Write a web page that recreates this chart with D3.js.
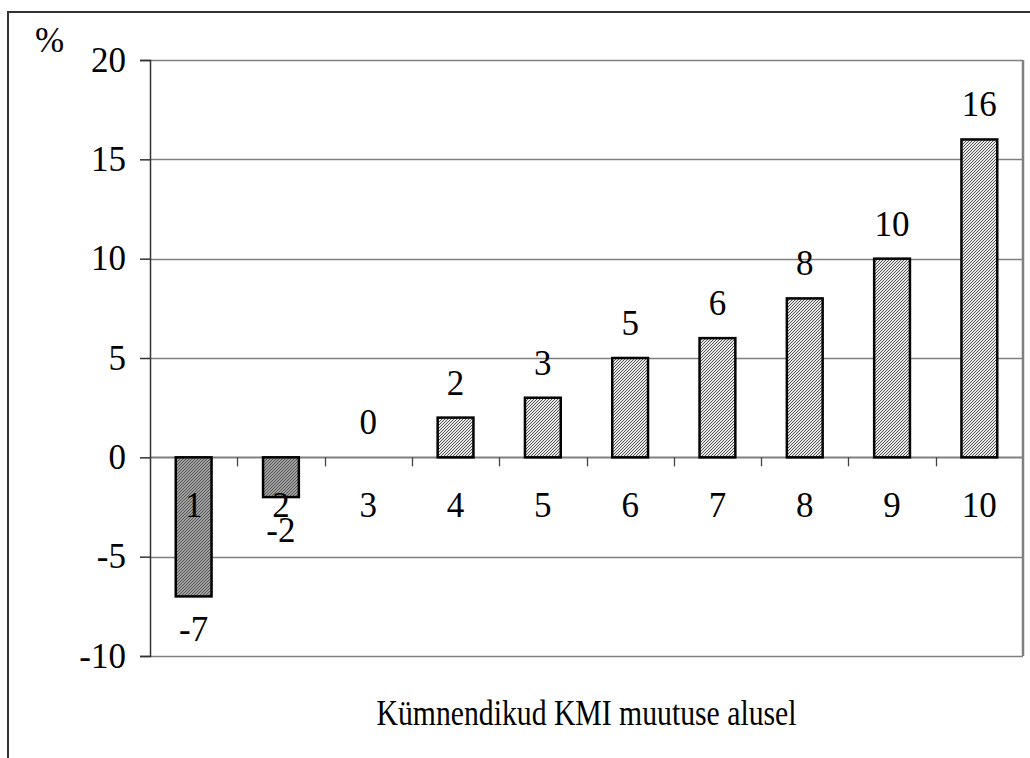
<!DOCTYPE html>
<html>
<head>
<meta charset="utf-8">
<script src="https://cdn.jsdelivr.net/npm/d3@7"></script>
<style>
  html, body { margin: 0; padding: 0; background: #fff; }
  svg { display: block; }
  svg text { font-family: "Liberation Serif", "Times New Roman", Times, "DejaVu Serif", serif !important; fill: #000; }
</style>
</head>
<body>
<svg id="chart" width="1030" height="758"></svg>
<script>
const categories = ["1", "2", "3", "4", "5", "6", "7", "8", "9", "10"];
const values = [-7, -2, 0, 2, 3, 5, 6, 8, 10, 16];
const yTicks = [-10, -5, 0, 5, 10, 15, 20];
const unitLabel = "%";
const xTitle = "Kümnendikud KMI muutuse alusel";

(function () {
const svg = d3.select("#chart");
const pLeft = 150, pRight = 1023, pTop = 60, pBottom = 656;
const fs = 35;
const serif = "'Liberation Serif', 'Times New Roman', Times, serif";

// outer frame (clipped by viewport on right/bottom)
svg.append("rect").attr("x", 8).attr("y", 12).attr("width", 1100).attr("height", 900)
  .attr("fill", "none").attr("stroke", "#333").attr("stroke-width", 2);

const defs = svg.append("defs");
const pPos = defs.append("pattern").attr("id", "hatchPos").attr("patternUnits", "userSpaceOnUse")
  .attr("width", 3).attr("height", 3);
pPos.append("rect").attr("width", 3).attr("height", 3).attr("fill", "#e8e8e8");
pPos.append("path").attr("d", "M-1,1 L1,-1 M0,3 L3,0 M2,4 L4,2").attr("stroke", "#555").attr("stroke-width", 1);

const pNeg = defs.append("pattern").attr("id", "hatchNeg").attr("patternUnits", "userSpaceOnUse")
  .attr("width", 3).attr("height", 3);
pNeg.append("rect").attr("width", 3).attr("height", 3).attr("fill", "#a0a0a0");
pNeg.append("path").attr("d", "M-1,1 L1,-1 M0,3 L3,0 M2,4 L4,2").attr("stroke", "#555").attr("stroke-width", 1);

const x = d3.scaleBand().domain(categories).range([pLeft, pRight]).paddingInner(0).paddingOuter(0);
const y = d3.scaleLinear().domain([-10, 20]).range([pBottom, pTop]);

// gridlines
svg.append("g").selectAll("line").data(yTicks).join("line")
  .attr("x1", pLeft).attr("x2", pRight)
  .attr("y1", d => Math.round(y(d)) + 0.5).attr("y2", d => Math.round(y(d)) + 0.5)
  .attr("stroke", "#808080").attr("stroke-width", d => d === 0 ? 2 : 1.3);

// right border of plot
svg.append("line").attr("x1", pRight).attr("x2", pRight).attr("y1", pTop).attr("y2", pBottom)
  .attr("stroke", "#808080").attr("stroke-width", 2.5);

// y axis
const yAxis = d3.axisLeft(y).tickValues(yTicks).tickSize(10).tickPadding(14).tickFormat(d3.format("d"));
const gy = svg.append("g").attr("transform", `translate(${pLeft},0)`).call(yAxis);
gy.attr("font-family", serif).attr("font-size", fs);
gy.select(".domain").attr("stroke", "#333").attr("stroke-width", 1.5);
gy.selectAll(".tick line").attr("stroke", "#333").attr("stroke-width", 1.5);
gy.selectAll(".tick text").attr("font-size", fs).style("font-family", serif).attr("fill", "#000")
  .text(d => d < 0 ? "-" + Math.abs(d) : d);

// x ticks at category boundaries on zero line
const bounds = categories.map(c => x(c));
svg.append("g").selectAll("line").data(bounds.slice(1)).join("line")
  .attr("x1", d => Math.round(d) + 0.5).attr("x2", d => Math.round(d) + 0.5)
  .attr("y1", y(0)).attr("y2", y(0) + 9)
  .attr("stroke", "#444").attr("stroke-width", 1.3);

// bars
const bw = x.bandwidth() * 0.41;
svg.append("g").selectAll("rect").data(values).join("rect")
  .attr("x", (d, i) => x(categories[i]) + x.bandwidth() / 2 - bw / 2)
  .attr("width", bw)
  .attr("y", d => y(Math.max(0, d)))
  .attr("height", d => Math.abs(y(d) - y(0)))
  .attr("fill", d => d < 0 ? "url(#hatchNeg)" : "url(#hatchPos)")
  .attr("stroke", d => d === 0 ? "none" : "#000").attr("stroke-width", 2.5);

// category labels
svg.append("g").selectAll("text").data(categories).join("text")
  .attr("x", d => x(d) + x.bandwidth() / 2)
  .attr("y", y(0) + 60)
  .attr("text-anchor", "middle").attr("font-size", fs).style("font-family", serif)
  .text(d => d);

// value labels
svg.append("g").selectAll("text").data(values).join("text")
  .attr("x", (d, i) => x(categories[i]) + x.bandwidth() / 2)
  .attr("y", d => d < 0 ? y(d) + 45 : y(d) - 23)
  .attr("text-anchor", "middle").attr("font-size", fs).style("font-family", serif)
  .text(d => d < 0 ? "-" + Math.abs(d) : d);

// unit label
svg.append("text").attr("x", 35).attr("y", 52).attr("font-size", fs).style("font-family", serif).text(unitLabel);

// x title
svg.append("text").attr("x", (pLeft + pRight) / 2).attr("y", 725)
  .attr("text-anchor", "middle").attr("font-size", fs).style("font-family", serif)
  .attr("textLength", 420).attr("lengthAdjust", "spacingAndGlyphs")
  .text(xTitle);
})();
</script>
</body>
</html>
